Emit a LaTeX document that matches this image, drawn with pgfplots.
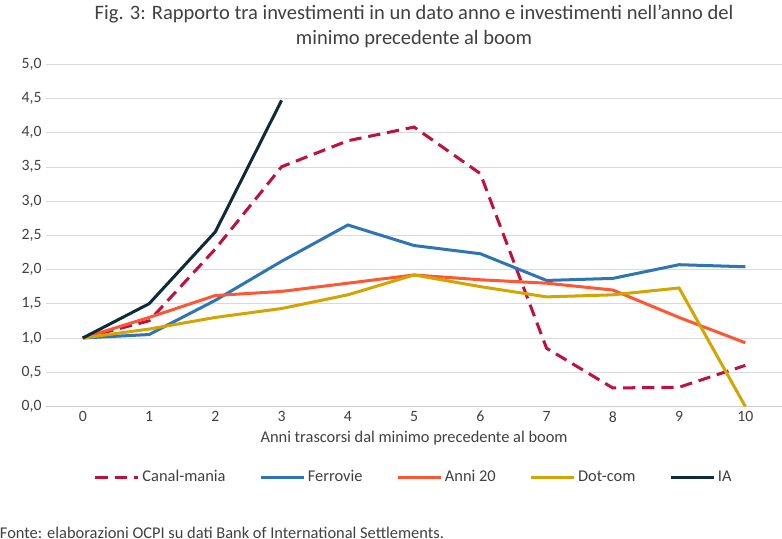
\documentclass[border=0pt]{standalone}
\usepackage{pgfplots}
\pgfplotsset{compat=1.18}
\usepackage{fontspec}
\setmainfont{Carlito}
\definecolor{canal}{HTML}{C0103F}
\definecolor{ferr}{HTML}{2E75B6}
\definecolor{anni}{HTML}{FF5733}
\definecolor{dot}{HTML}{D4A500}
\definecolor{ia}{HTML}{0E2A3B}
\definecolor{txt}{HTML}{404040}
\begin{document}
\begin{tikzpicture}
\begin{axis}[
  scale only axis, width=18.9cm, height=8.8cm,
  xmin=-0.55, xmax=10.55, ymin=0, ymax=5,
  xtick={0,...,10}, ytick={0,0.5,...,5},
  yticklabel style={/pgf/number format/.cd,fixed,fixed zerofill,precision=1,use comma},
  /pgf/number format/assume math mode=true,
  ymajorgrids, grid style={gray!30},
  axis x line*=bottom, axis y line*=left,
  y axis line style={draw=none},
  x axis line style={gray!40},
  xtick style={draw=none}, ytick style={draw=none},
  ticklabel style={font=\fontsize{11.5}{13}\selectfont, text=txt},
  xlabel={Anni trascorsi dal minimo precedente al boom},
  xlabel style={font=\fontsize{12}{14}\selectfont, text=txt},
  title={Fig. 3: Rapporto tra investimenti in un dato anno e investimenti nell’anno del\\minimo precedente al boom},
  title style={font=\fontsize{15}{19}\selectfont, text=txt, align=center, yshift=2pt},
  legend style={at={(0.5,-0.17)}, anchor=north, draw=none, legend columns=5, font=\fontsize{12}{14}\selectfont, text=txt, /tikz/every even column/.append style={column sep=0.8cm}},
  legend image code/.code={\draw[#1] (0cm,0cm) -- (1.1cm,0cm);},
  every axis plot/.append style={line width=2.2pt},
  clip=false,
]
\addplot[canal, dash pattern=on 9pt off 5pt] coordinates {(0,1)(1,1.25)(2,2.3)(3,3.5)(4,3.88)(5,4.08)(6,3.4)(7,0.85)(8,0.27)(9,0.28)(10,0.6)};
\addlegendentry{Canal-mania}
\addplot[ferr] coordinates {(0,1)(1,1.05)(2,1.55)(3,2.12)(4,2.65)(5,2.35)(6,2.23)(7,1.84)(8,1.87)(9,2.07)(10,2.04)};
\addlegendentry{Ferrovie}
\addplot[anni] coordinates {(0,1)(1,1.3)(2,1.62)(3,1.68)(4,1.8)(5,1.92)(6,1.85)(7,1.8)(8,1.7)(9,1.3)(10,0.93)};
\addlegendentry{Anni 20}
\addplot[dot] coordinates {(0,1)(1,1.13)(2,1.3)(3,1.43)(4,1.63)(5,1.92)(6,1.75)(7,1.6)(8,1.63)(9,1.73)(10,0)};
\addlegendentry{Dot-com}
\addplot[ia] coordinates {(0,1)(1,1.5)(2,2.55)(3,4.47)};
\addlegendentry{IA}
\node[anchor=north west, font=\fontsize{12}{14}\selectfont, text=txt, inner sep=0pt] at ([xshift=-1.2cm,yshift=-3.1cm]rel axis cs:0,0) {Fonte: elaborazioni OCPI su dati Bank of International Settlements.};
\end{axis}
\end{tikzpicture}
\end{document}
